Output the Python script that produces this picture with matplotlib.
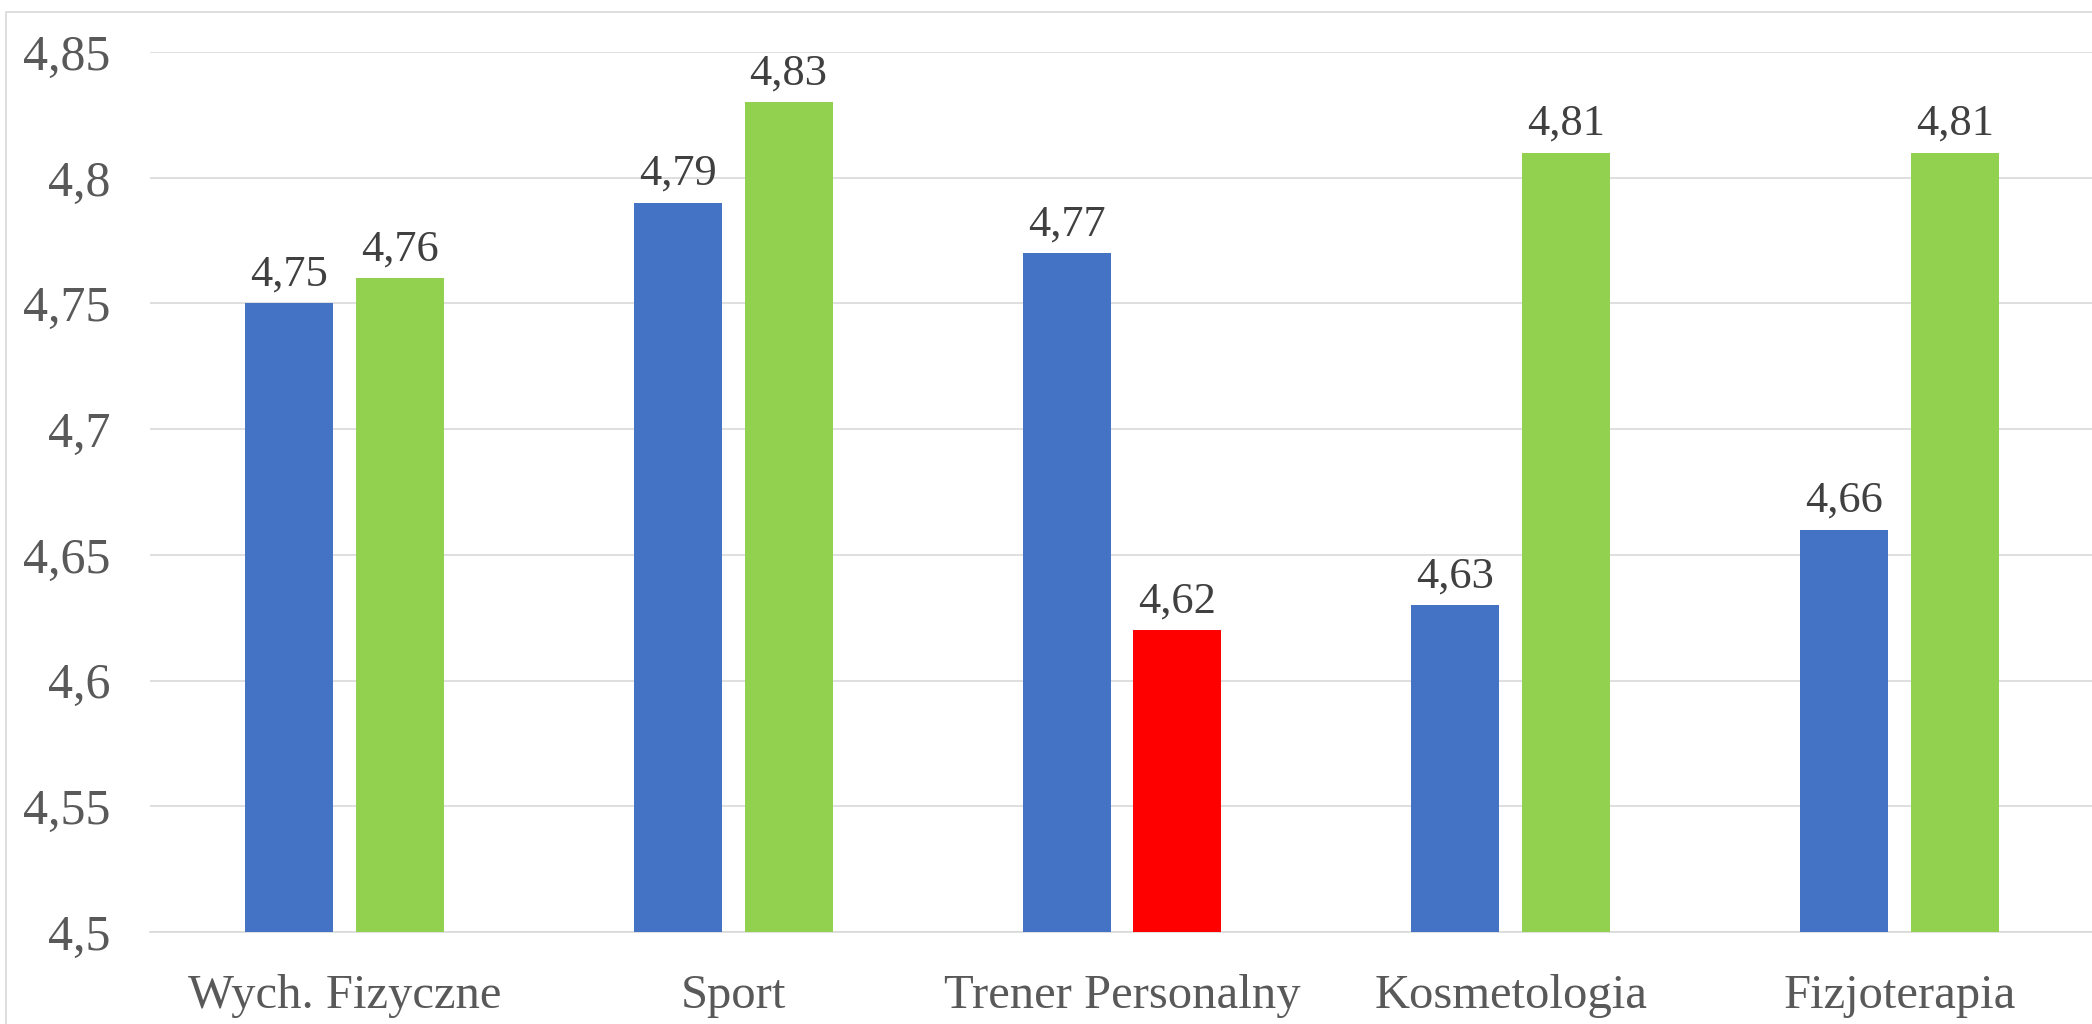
import matplotlib
matplotlib.use("Agg")
import matplotlib.pyplot as plt
from matplotlib.patches import Rectangle
import numpy as np

categories = ["Wych. Fizyczne", "Sport", "Trener Personalny", "Kosmetologia", "Fizjoterapia"]
series_a = [4.75, 4.79, 4.77, 4.63, 4.66]
series_b = [4.76, 4.83, 4.62, 4.81, 4.81]
colors_b = ["#92D050", "#92D050", "#FF0000", "#92D050", "#92D050"]
yticks = [4.5, 4.55, 4.6, 4.65, 4.7, 4.75, 4.8, 4.85]

plt.rcParams['font.family'] = ['Liberation Serif', 'DejaVu Serif']

W, H = 2092, 1024
fig = plt.figure(figsize=(W / 100, H / 100), dpi=100)
ax = fig.add_axes([150 / W, 1 - 932 / H, (2094 - 150) / W, (932 - 52) / H])

x = np.arange(len(categories))
bw = 0.226
off = 0.1425
bars_a = ax.bar(x - off, series_a, width=bw, color="#4472C4", zorder=3)
bars_b = ax.bar(x + off, series_b, width=bw, color=colors_b, zorder=3)

for bars, vals in ((bars_a, series_a), (bars_b, series_b)):
    for b, v in zip(bars, vals):
        ax.annotate(f"{v:.2f}".replace(".", ","), (b.get_x() + b.get_width() / 2, v),
                    xytext=(0, 6.5), textcoords="offset points", ha="center", va="bottom",
                    fontsize=32, color="#404040")

ax.set_ylim(4.5, 4.85)
ax.set_xlim(-0.5, len(categories) - 0.5)
ax.set_yticks(yticks)
ax.set_yticklabels([f"{t:g}".replace(".", ",") for t in yticks])
ax.set_xticks(x)
ax.set_xticklabels(categories)
ax.tick_params(axis="y", length=0, pad=28.5, labelsize=36, labelcolor="#595959")
ax.tick_params(axis="x", length=0, pad=30, labelsize=35, labelcolor="#595959")
ax.grid(axis="y", color="#D9D9D9", linewidth=1.2, zorder=0)
for s in ("top", "right", "left"):
    ax.spines[s].set_visible(False)
ax.spines["bottom"].set_color("#D9D9D9")
ax.spines["bottom"].set_linewidth(1.2)
ax.spines["bottom"].set_zorder(2)

border = Rectangle((6 / W, -0.1), 1.2, 1.1 - 12 / H, transform=fig.transFigure,
                   fill=False, edgecolor="#D9D9D9", linewidth=1.2)
fig.add_artist(border)

fig.savefig("out.png", dpi=100)
